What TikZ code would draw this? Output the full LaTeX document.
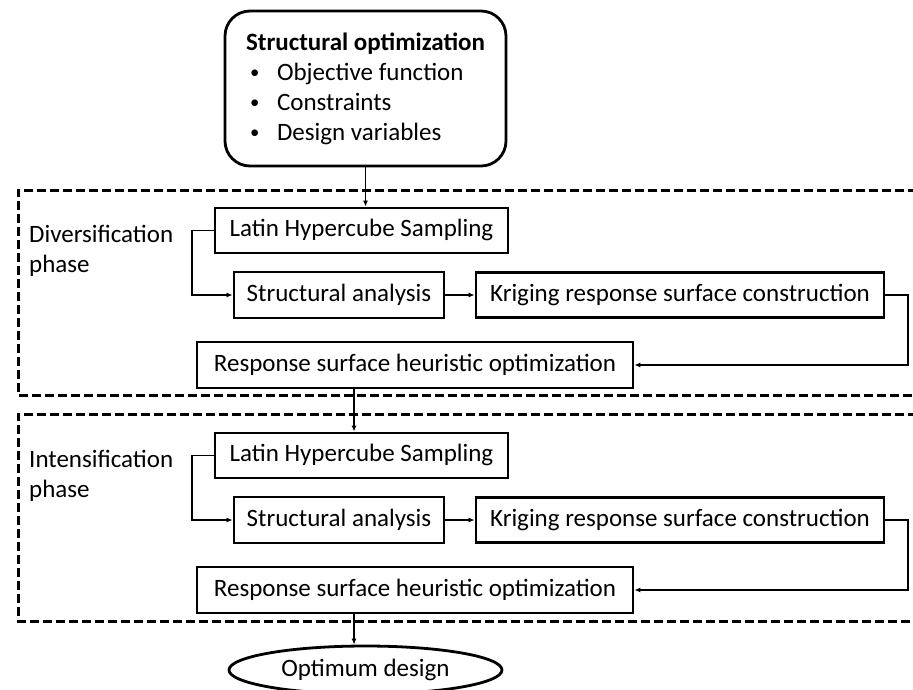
\documentclass[tikz,border=0pt]{standalone}
\usepackage{fontspec}
\setmainfont{Carlito}
\usepackage{tikz}
\usetikzlibrary{arrows.meta,shapes.geometric,calc}

\newcommand{\bulletitem}{\hspace*{4pt}\makebox[27pt][l]{\raisebox{1.5pt}{\scalebox{0.75}{•}}}}

\begin{document}
\begin{tikzpicture}[x=1pt,y=-1pt,
    font=\fontsize{25}{30}\selectfont,
    stepbox/.style={draw,line width=2.8pt,inner sep=0pt,text height=17pt,text depth=5pt},
    link/.style={line width=1.2pt,-{Latex[length=6pt,width=5pt]}},
    phasebox/.style={line width=3pt,dash pattern=on 9pt off 4pt},
    phaselabel/.style={anchor=base west,align=left,inner sep=0pt}]
\useasboundingbox (0,0) rectangle (913,689);

\node[draw,line width=2.8pt,rounded corners=25pt,minimum width=281pt,minimum height=155pt,align=left]
    (start) at (365.5,88.5) {\textbf{Structural optimization}\\
    \bulletitem Objective function\\
    \bulletitem Constraints\\
    \bulletitem Design variables};

\draw[phasebox] (930,190) -- (18,190) -- (18,395) -- (930,395);
\node[phaselabel] (div) at (29,272) {Diversification\\phase};
\node[stepbox,minimum width=293pt,minimum height=45pt] (lhsA) at (361.5,230.5) {Latin Hypercube Sampling};
\node[stepbox,minimum width=210pt,minimum height=46pt] (saA) at (339,295) {Structural analysis};
\node[stepbox,minimum width=408pt,minimum height=45pt] (krA) at (680,295) {Kriging response surface construction};
\node[stepbox,minimum width=436pt,minimum height=46pt] (rsA) at (415,365) {Response surface heuristic optimization};

\draw[phasebox] (930,414) -- (18,414) -- (18,621) -- (930,621);
\node[phaselabel] (int) at (29,497) {Intensification\\phase};
\node[stepbox,minimum width=293pt,minimum height=45pt] (lhsB) at (361.5,455.5) {Latin Hypercube Sampling};
\node[stepbox,minimum width=210pt,minimum height=46pt] (saB) at (339,520) {Structural analysis};
\node[stepbox,minimum width=408pt,minimum height=45pt] (krB) at (680,520) {Kriging response surface construction};
\node[stepbox,minimum width=436pt,minimum height=46pt] (rsB) at (415,590) {Response surface heuristic optimization};

\node[draw,ellipse,line width=2.8pt,minimum width=273pt,minimum height=48pt,inner sep=0pt]
    (opt) at (365.5,670) {Optimum design};

\coordinate (drop) at (354,0);
\coordinate (turn) at (908,0);
\coordinate (side) at (192,0);

\draw[link] (start.south) -- (start.south |- lhsA.north);
\draw[link] (lhsA.west) -- (lhsA.west -| side) -- (saA.west -| side) -- (saA.west);
\draw[link] (saA.east) -- (krA.west);
\draw[link] (krA.east) -- (krA.east -| turn) -- (rsA.east -| turn) -- (rsA.east);
\draw[link] (rsA.south -| drop) -- (lhsB.north -| drop);
\draw[link] (lhsB.west) -- (lhsB.west -| side) -- (saB.west -| side) -- (saB.west);
\draw[link] (saB.east) -- (krB.west);
\draw[link] (krB.east) -- (krB.east -| turn) -- (rsB.east -| turn) -- (rsB.east);
\draw[link] (rsB.south -| drop) -- (opt.north -| drop);
\end{tikzpicture}
\end{document}
